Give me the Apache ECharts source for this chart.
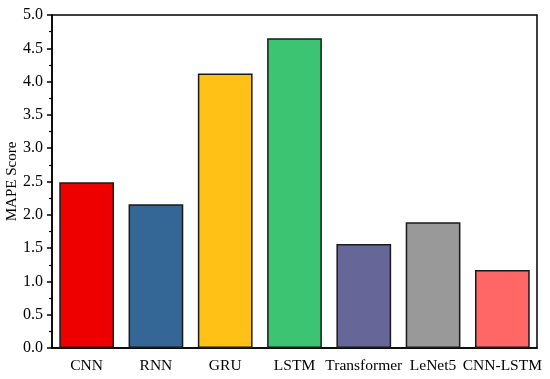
<!DOCTYPE html>
<html><head><meta charset="utf-8">
<script src="https://cdn.jsdelivr.net/npm/echarts@6/dist/echarts.min.js"></script>
<style>html,body{margin:0;padding:0;background:#fff}#c{width:550px;height:379px}</style>
</head><body><div id="c"></div>
<script>
const categories = ['CNN','RNN','GRU','LSTM','Transformer','LeNet5','CNN-LSTM'];
const mapeValues = [2.49, 2.16, 4.12, 4.65, 1.56, 1.89, 1.17];
const barColors = ['#EE0000','#346796','#FFC115','#3DC472','#666698','#999999','#FF6666'];
const yTicks = { min: 0, max: 5, interval: 0.5 };

const font = '"Liberation Serif","Times New Roman",serif';
const chart = echarts.init(document.getElementById('c'));
chart.setOption({
  animation: false,
  grid: { left: 52, right: 13, top: 15, bottom: 31, show: true, borderColor: '#000', borderWidth: 1.5, containLabel: false, outerBoundsMode: 'none' },
  xAxis: [{
    type: 'category', data: categories, position: 'bottom',
    axisLine: { lineStyle: { color: '#000', width: 1.5 } },
    axisTick: { alignWithLabel: true, length: 5, lineStyle: { color: '#000', width: 1.5 } },
    axisLabel: { color: '#000', fontFamily: font, fontSize: 15.5, margin: 10, interval: 0, hideOverlap: false }
  }, {
    type: 'category', data: categories, position: 'bottom',
    axisLine: { show: false },
    axisTick: { length: 3, lineStyle: { color: '#000', width: 1.2 } },
    axisLabel: { show: false }
  }],
  yAxis: {
    type: 'value', min: yTicks.min, max: yTicks.max, interval: yTicks.interval,
    name: 'MAPE Score', nameLocation: 'middle', nameGap: 32, nameMoveOverlap: false,
    nameTextStyle: { color: '#000', fontFamily: font, fontSize: 15 },
    axisLine: { show: true, lineStyle: { color: '#000', width: 1.5 } },
    axisTick: { show: true, length: 5, lineStyle: { color: '#000', width: 1.5 } },
    minorTick: { show: true, splitNumber: 2, length: 3, lineStyle: { color: '#000', width: 1.2 } },
    splitLine: { show: false },
    axisLabel: { color: '#000', fontFamily: font, fontSize: 16, margin: 9, formatter: v => v.toFixed(1) }
  },
  series: [{
    type: 'bar', barCategoryGap: '21%',
    data: mapeValues.map((v, i) => ({ value: v, itemStyle: { color: barColors[i] } })),
    itemStyle: { borderColor: '#1a1a1a', borderWidth: 1.5 }
  }]
});
</script></body></html>
